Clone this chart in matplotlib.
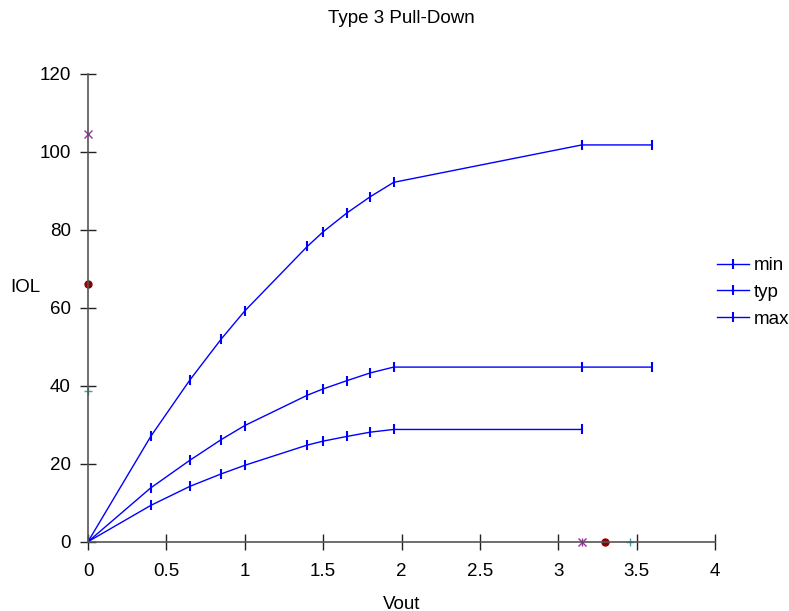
import matplotlib
matplotlib.use("Agg")
import matplotlib.pyplot as plt

plt.rcParams['font.family'] = ['Liberation Sans', 'DejaVu Sans']

# Vout sample points
vout = [0, 0.4, 0.65, 0.85, 1.0, 1.4, 1.5, 1.65, 1.8, 1.95, 3.15, 3.6]

# IOL curves (mA)
iol_min = [0, 9.3, 14.2, 17.4, 19.6, 24.8, 25.8, 27.0, 28.1, 28.8, 28.8]
iol_typ = [0, 13.8, 20.9, 26.2, 29.8, 37.6, 39.2, 41.3, 43.3, 44.8, 44.8, 44.8]
iol_max = [0, 27.0, 41.5, 52.0, 59.2, 75.8, 79.5, 84.3, 88.5, 92.2, 101.8, 101.8]

# loose markers on the axes
ax_y_x, ax_y_dot, ax_y_plus = 104.6, 66.0, 38.6
ax_x_x, ax_x_dot, ax_x_plus = 3.15, 3.30, 3.46

fs = 13.5

fig = plt.figure(figsize=(7.89, 6.11), dpi=100)
ax = fig.add_axes([88/789, 1 - 541.7/611, (715 - 88)/789, (541.7 - 74)/611])

blue = '#0000ff'
ax.plot(vout[:len(iol_min)], iol_min, color=blue, lw=1, marker='|', ms=7, mew=1.5, label='min')
ax.plot(vout, iol_typ, color=blue, lw=1, marker='|', ms=7, mew=1.5, label='typ')
ax.plot(vout, iol_max, color=blue, lw=1, marker='|', ms=7, mew=1.5, label='max')

purple = '#993399'
darkred = '#8b0000'
teal = '#33aaaa'
ax.plot([0], [ax_y_x], marker='x', color=purple, ms=6, ls='none', clip_on=False)
ax.plot([0], [ax_y_dot], marker='o', color=darkred, ms=5, ls='none', clip_on=False)
ax.plot([0], [ax_y_plus], marker='+', color=teal, ms=6, ls='none', clip_on=False)
ax.plot([ax_x_x], [0], marker='x', color=purple, ms=6, ls='none', clip_on=False)
ax.plot([ax_x_x], [0], marker='|', color=purple, ms=6, ls='none', clip_on=False)
ax.plot([ax_x_dot], [0], marker='o', color=darkred, ms=5, ls='none', clip_on=False)
ax.plot([ax_x_plus], [0], marker='+', color=teal, ms=6, ls='none', clip_on=False)

ax.set_xlim(0, 4)
ax.set_ylim(0, 120)
ax.set_xticks([0, 0.5, 1, 1.5, 2, 2.5, 3, 3.5, 4])
ax.set_xticklabels(['0', '0.5', '1', '1.5', '2', '2.5', '3', '3.5', '4'])
ax.set_yticks([0, 20, 40, 60, 80, 100, 120])

for s in ['top', 'right']:
    ax.spines[s].set_visible(False)
for s in ['left', 'bottom']:
    ax.spines[s].set_color('#555555')
    ax.spines[s].set_linewidth(1.2)
ax.tick_params(direction='inout', length=11, width=1, color='#222222',
               labelsize=fs)
ax.tick_params(axis='x', pad=10)
ax.tick_params(axis='y', pad=7)

ax.set_title('Type 3 Pull-Down', fontsize=fs, pad=37)
ax.set_xlabel('Vout', fontsize=fs, labelpad=11)
ax.set_ylabel('IOL', fontsize=fs, rotation=0, labelpad=0)
ax.yaxis.set_label_coords(-0.1, 0.526)

ax.legend(loc='upper left', bbox_to_anchor=(717/789, 1 - 257/611),
          bbox_transform=fig.transFigure, frameon=False, fontsize=fs,
          handlelength=1.7, handletextpad=0.25, labelspacing=0.52, borderaxespad=0,
          borderpad=0)

fig.savefig('out.png', dpi=100)
